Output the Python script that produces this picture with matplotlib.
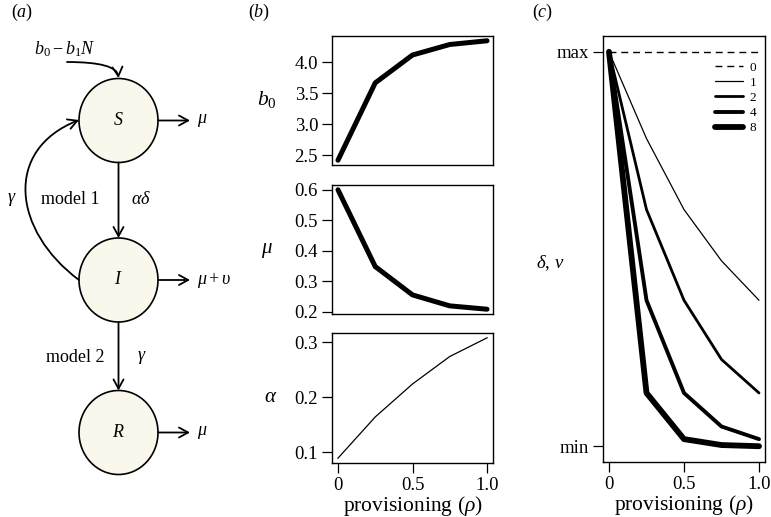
import matplotlib
matplotlib.use('Agg')
import matplotlib.pyplot as plt
from matplotlib.patches import Ellipse, FancyArrowPatch
from matplotlib.path import Path

plt.rcParams['font.family'] = ['Liberation Serif', 'DejaVu Serif']
plt.rcParams['mathtext.fontset'] = 'custom'
plt.rcParams['mathtext.rm'] = 'Liberation Serif'
plt.rcParams['mathtext.it'] = 'Liberation Serif:italic'
plt.rcParams['axes.linewidth'] = 1.0

# ---- data ----
rho = [0, 0.25, 0.5, 0.75, 1.0]

# panel (b)
b0 = [2.42, 3.67, 4.12, 4.29, 4.35]
mu = [0.600, 0.348, 0.255, 0.219, 0.208]
alpha = [0.089, 0.164, 0.224, 0.274, 0.308]

# panel (c), scaled between min (0) and max (1)
c_labels = ['0', '1', '2', '4', '8']
d0 = [1.0, 1.0, 1.0, 1.0, 1.0]
d1 = [1.0, 0.78, 0.60, 0.47, 0.37]
d2 = [1.0, 0.60, 0.37, 0.22, 0.135]
d4 = [1.0, 0.37, 0.135, 0.05, 0.018]
d8 = [1.0, 0.135, 0.018, 0.003, 0.0]
c_series = [d0, d1, d2, d4, d8]
c_widths = [1.0, 0.9, 2.0, 2.8, 4.2]
c_styles = ['--', '-', '-', '-', '-']

W, H = 771, 517
fig = plt.figure(figsize=(W / 100, H / 100), dpi=100)


def box(left, top, right, bottom):
    # pixel box -> figure fraction
    return [left / W, (H - bottom) / H, (right - left) / W, (bottom - top) / H]


FS = 13.5
XL = 15.5
TICK = dict(direction='out', length=7, width=0.9, labelsize=FS, pad=3)

# ================= panel (a): diagram =================
axd = fig.add_axes([0, 0, 250 / W, 1])
axd.set_xlim(0, 250)
axd.set_ylim(H, 0)
axd.axis('off')

cx = 118.5
nodes = [('S', 120.5), ('I', 280), ('R', 432.5)]
for name, y in nodes:
    axd.add_patch(Ellipse((cx, y), 79, 84, fc='#faf8ec', ec='black', lw=1.2, zorder=2))
    axd.text(cx, y, '$' + name + '$', ha='center', va='center', fontsize=13, zorder=3)


def arrow(p0, p1, path=None):
    kw = dict(arrowstyle='->,head_length=0.55,head_width=0.3', mutation_scale=12,
              lw=1.3, color='black', shrinkA=0, shrinkB=0, zorder=4)
    if path is not None:
        a = FancyArrowPatch(path=path, **kw)
    else:
        a = FancyArrowPatch(p0, p1, **kw)
    axd.add_patch(a)


# outflows
for _, y in nodes:
    arrow((158, y), (190, y))
axd.text(197, 120.5, r'$\mu$', ha='left', va='center', fontsize=13)
axd.text(197, 280, r'$\mu + \upsilon$', ha='left', va='center', fontsize=13)
axd.text(197, 432.5, r'$\mu$', ha='left', va='center', fontsize=13)

# S -> I, I -> R
arrow((cx, 162.5), (cx, 238))
arrow((cx, 322), (cx, 390.5))
axd.text(141, 200, r'$\alpha\delta$', ha='center', va='center', fontsize=13)
axd.text(70, 200, 'model 1', ha='center', va='center', fontsize=13)
axd.text(75, 357, 'model 2', ha='center', va='center', fontsize=13)
axd.text(142, 357, r'$\gamma$', ha='center', va='center', fontsize=13)
axd.text(12, 200, r'$\gamma$', ha='center', va='center', fontsize=13)

# I -> S recovery loop
loop = Path([(79, 280), (13, 231), (3, 150), (79, 120)],
            [Path.MOVETO, Path.CURVE4, Path.CURVE4, Path.CURVE4])
arrow(None, None, path=loop)

# birth inflow
birth = Path([(67, 62), (117, 62), (cx, 78)],
             [Path.MOVETO, Path.CURVE3, Path.CURVE3])
arrow(None, None, path=birth)
axd.text(65, 49, r'$b_0 - b_1N$', ha='center', va='center', fontsize=13)

# panel letters
fig.text(22 / W, 1 - 12 / H, '($a$)', ha='center', va='center', fontsize=13)
fig.text(259 / W, 1 - 12 / H, '($b$)', ha='center', va='center', fontsize=13)
fig.text(543 / W, 1 - 12 / H, '($c$)', ha='center', va='center', fontsize=13)

# ================= panel (b) =================
ax1 = fig.add_axes(box(332, 36, 493, 165))
ax2 = fig.add_axes(box(332, 185, 493, 314))
ax3 = fig.add_axes(box(332, 333, 493, 463))

ax1.plot(rho, b0, color='black', lw=3.6, solid_capstyle='round', solid_joinstyle='round')
ax2.plot(rho, mu, color='black', lw=3.6, solid_capstyle='round', solid_joinstyle='round')
ax3.plot(rho, alpha, color='black', lw=0.9)

ax1.set_yticks([2.5, 3.0, 3.5, 4.0])
ax2.set_yticks([0.2, 0.3, 0.4, 0.5, 0.6])
ax3.set_yticks([0.1, 0.2, 0.3])
for ax in (ax1, ax2, ax3):
    ax.margins(x=0.04, y=0.04)
    ax.tick_params(**TICK)
for ax in (ax1, ax2):
    ax.tick_params(axis='x', bottom=False, labelbottom=False)
ax3.set_xticks([0, 0.5, 1.0])
ax3.set_xticklabels(['0', '0.5', '1.0'])
ax3.set_xlabel(r'provisioning ($\rho$)', fontsize=XL, labelpad=0)

fig.text(267 / W, 1 - 100 / H, r'$b_0$', ha='center', va='center', fontsize=15.5)
fig.text(267 / W, 1 - 250 / H, r'$\mu$', ha='center', va='center', fontsize=15)
fig.text(271 / W, 1 - 398 / H, r'$\alpha$', ha='center', va='center', fontsize=15)

# ================= panel (c) =================
axc = fig.add_axes(box(603, 36, 765, 462))
for vals, lab, lw, ls in zip(c_series, c_labels, c_widths, c_styles):
    axc.plot(rho, vals, color='black', lw=lw, ls=ls, label=lab,
             solid_capstyle='round', solid_joinstyle='round',
             dashes=(5, 3.5) if ls == '--' else (None, None))
axc.set_xlim(-0.04, 1.04)
axc.set_ylim(-0.04, 1.04)
axc.set_yticks([0, 1])
axc.set_yticklabels(['min', 'max'])
axc.set_xticks([0, 0.5, 1.0])
axc.set_xticklabels(['0', '0.5', '1.0'])
axc.tick_params(**TICK)
axc.set_xlabel(r'provisioning ($\rho$)', fontsize=XL, labelpad=0)
leg = axc.legend(loc='upper right', bbox_to_anchor=(0.945, 0.94), frameon=False,
                 fontsize=9.5, handlelength=2.1, handletextpad=0.5, labelspacing=0.22,
                 borderpad=0, borderaxespad=0)
fig.text(550 / W, 1 - 263 / H, r'$\delta$, $\nu$', ha='center', va='center', fontsize=FS)

fig.savefig('out.png', dpi=100)
